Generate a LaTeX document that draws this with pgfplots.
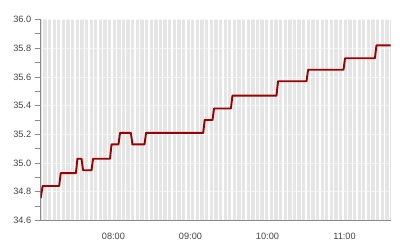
\documentclass[border=0pt]{standalone}
\usepackage{fontspec}
\setmainfont{Liberation Sans}
\usepackage{pgfplots}
\pgfplotsset{compat=1.18}
\definecolor{bg}{HTML}{E5E5E5}
\definecolor{axisgray}{HTML}{8A8A8A}
\definecolor{lbl}{HTML}{444444}
\definecolor{linecol}{HTML}{990000}
\begin{document}
\begin{tikzpicture}[x=1pt,y=1pt]
\useasboundingbox (0,0) rectangle (400,240);
\begin{axis}[
 at={(40.7pt,19.5pt)}, anchor=south west,
 width=350pt, height=201pt, scale only axis,
 xmin=7.055, xmax=11.6, ymin=34.6, ymax=36.0,
 axis background/.style={fill=bg},
 axis x line*=bottom, axis y line*=left,
 axis line style={axisgray, line width=0.9pt, -},
 xtick={8,9,10,11}, xticklabels={08:00,09:00,10:00,11:00},
 minor xtick={7.0805,7.1405,...,11.6},
 xminorgrids=true, xmajorgrids=false,
 minor x grid style={white, line width=1.3pt},
 x tick style={draw=none},
 ytick={34.6,34.8,35.0,35.2,35.4,35.6,35.8,36.0},
 minor ytick={34.7,34.9,35.1,35.3,35.5,35.7,35.9},
 ymajorgrids=true,
 major y grid style={white, opacity=0.6, line width=0.8pt},
 y tick style={axisgray, line width=0.8pt},
 tick align=outside,
 major tick length=6pt, minor tick length=6pt,
 yticklabel style={/pgf/number format/.cd, fixed, fixed zerofill, precision=1},
 tick label style={font=\fontsize{9.2}{10}\selectfont, text=lbl},
 /pgf/number format/assume math mode=true,
 xticklabel style={yshift=-3pt},
 clip=true,
]
\addplot[linecol, line width=1.9pt, line join=round] coordinates {
(7.055,34.755) (7.08,34.84) (7.295,34.84) (7.315,34.93) (7.512,34.93) (7.532,35.03)
(7.585,35.03) (7.605,34.95) (7.715,34.95) (7.735,35.03) (7.955,35.03) (7.975,35.13)
(8.065,35.13) (8.085,35.21) (8.226,35.21) (8.246,35.13) (8.403,35.13) (8.423,35.21)
(9.165,35.21) (9.185,35.30) (9.286,35.30) (9.306,35.38) (9.525,35.38) (9.545,35.47)
(10.117,35.47) (10.137,35.57) (10.507,35.57) (10.527,35.65) (10.987,35.65) (11.007,35.73)
(11.395,35.73) (11.415,35.82) (11.6,35.82)
};
\end{axis}
\end{tikzpicture}
\end{document}
